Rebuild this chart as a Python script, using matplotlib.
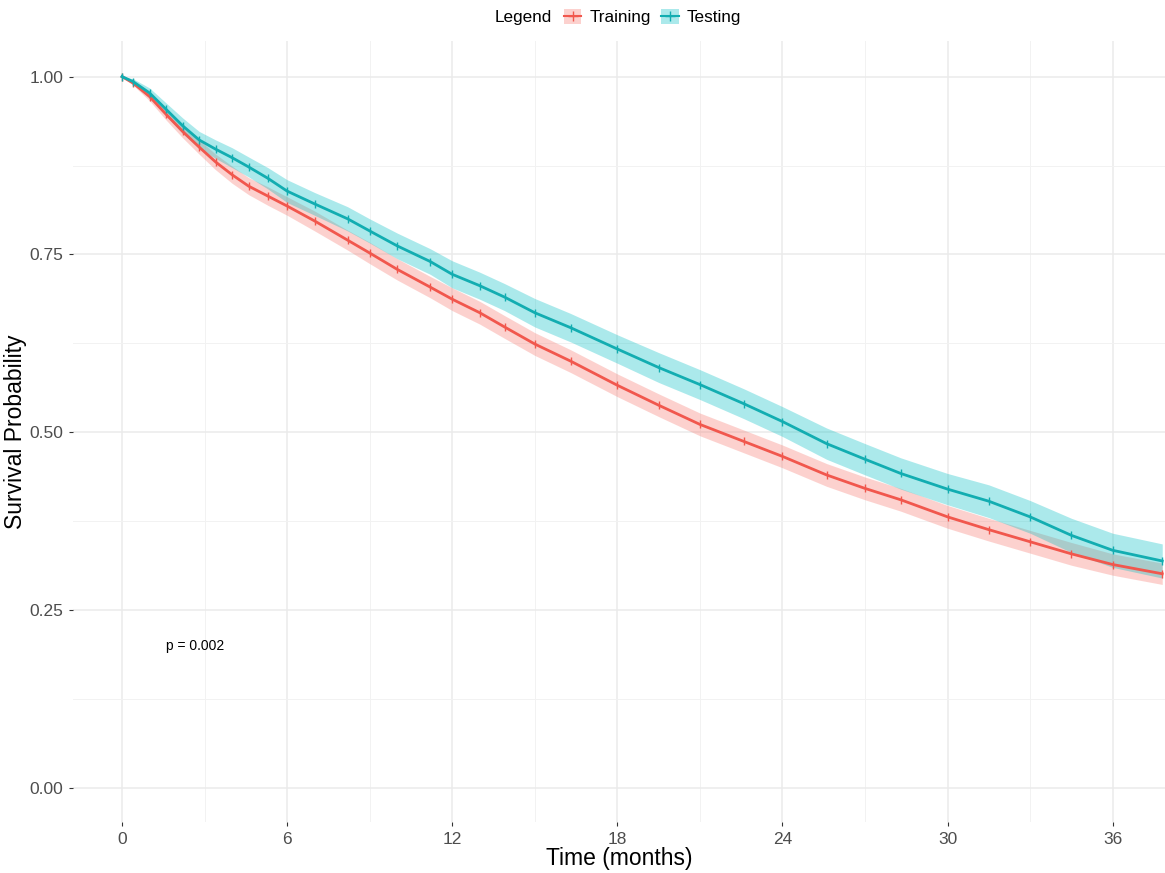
import matplotlib.pyplot as plt
from matplotlib.patches import Patch
from matplotlib.lines import Line2D
from matplotlib.ticker import MultipleLocator

plt.rcParams['font.family'] = ['Liberation Sans', 'DejaVu Sans']

# time points (months)
months = [0, 0.4, 1.0, 1.6, 2.2, 2.8, 3.4, 4.0, 4.6, 5.3, 6.0, 7.0, 8.2, 9.0,
          10.0, 11.2, 12.0, 13.0, 13.9, 15.0, 16.3, 18.0, 19.5, 21.0, 22.6,
          24.0, 25.6, 27.0, 28.3, 30.0, 31.5, 33.0, 34.5, 36.0, 37.8]

training = [1.0, 0.991, 0.972, 0.947, 0.923, 0.901, 0.880, 0.862, 0.846, 0.832,
            0.818, 0.797, 0.770, 0.752, 0.729, 0.704, 0.687, 0.668, 0.648,
            0.624, 0.600, 0.566, 0.538, 0.511, 0.487, 0.466, 0.440, 0.421,
            0.405, 0.381, 0.363, 0.346, 0.329, 0.314, 0.301]
testing = [1.0, 0.993, 0.977, 0.954, 0.931, 0.911, 0.898, 0.886, 0.873, 0.857,
           0.839, 0.821, 0.800, 0.783, 0.762, 0.740, 0.722, 0.706, 0.690,
           0.668, 0.647, 0.617, 0.591, 0.567, 0.540, 0.515, 0.484, 0.462,
           0.442, 0.420, 0.403, 0.381, 0.355, 0.334, 0.319]

# half width of the confidence bands
training_ci = [0, 0.003, 0.006, 0.008, 0.009, 0.010, 0.011, 0.012, 0.012, 0.013,
               0.013, 0.014, 0.014, 0.015, 0.015, 0.015, 0.016, 0.016, 0.016,
               0.016, 0.016, 0.016, 0.016, 0.016, 0.016, 0.016, 0.016, 0.016,
               0.016, 0.016, 0.016, 0.016, 0.016, 0.015, 0.015]
testing_ci = [0, 0.004, 0.007, 0.009, 0.011, 0.012, 0.013, 0.014, 0.014, 0.015,
              0.016, 0.016, 0.017, 0.017, 0.018, 0.018, 0.019, 0.019, 0.019,
              0.020, 0.020, 0.020, 0.021, 0.021, 0.021, 0.021, 0.022, 0.022,
              0.022, 0.022, 0.023, 0.023, 0.024, 0.024, 0.024]

groups = ['Training', 'Testing']
line_colors = ['#F1574D', '#12ADB1']
fill_colors = ['#F8766D', '#00BFC4']

fig = plt.figure(figsize=(11.65, 8.73), dpi=100)
ax = fig.add_axes([0.0627, 0.0584, 0.9373, 0.8946])

handles = []
for name, surv, ci, lc, fc in zip(groups, [training, testing],
                                  [training_ci, testing_ci],
                                  line_colors, fill_colors):
    lo = [s - c for s, c in zip(surv, ci)]
    hi = [s + c for s, c in zip(surv, ci)]
    ax.fill_between(months, lo, hi, color=fc, alpha=0.33, lw=0, zorder=2)
    ax.plot(months, surv, color=lc, lw=2.0, marker='|', ms=6, mew=1.0,
            zorder=3)
    handles.append((Patch(facecolor=fc, alpha=0.33, edgecolor='none'),
                    Line2D([], [], color=lc, lw=1.5, marker='+', ms=7)))

ax.text(1.6, 0.20, 'p = 0.002', fontsize=10, ha='left', va='center',
        color='black')

ax.set_xlim(-1.78, 37.9)
ax.set_ylim(-0.048, 1.05)
ax.xaxis.set_major_locator(MultipleLocator(6))
ax.xaxis.set_minor_locator(MultipleLocator(3))
ax.yaxis.set_minor_locator(MultipleLocator(0.125))
ax.set_yticks([0, 0.25, 0.5, 0.75, 1.0])
ax.set_yticklabels(['0.00', '0.25', '0.50', '0.75', '1.00'])
ax.grid(which='major', color='#EBEBEB', lw=1.1, zorder=0)
ax.grid(which='minor', color='#F2F2F2', lw=0.7, zorder=0)
ax.set_axisbelow(True)
for s in ax.spines.values():
    s.set_visible(False)
ax.tick_params(which='major', length=3, width=0.8, color='#333333',
               labelsize=12.5, labelcolor='#4D4D4D', pad=4)
ax.tick_params(which='minor', length=0)

ax.set_xlabel('Time (months)', fontsize=16.5, labelpad=0)
ax.set_ylabel('Survival Probability', fontsize=16.5, labelpad=2)

fig.text(0.425, 0.9805, 'Legend', fontsize=12.3, ha='left', va='center')
fig.legend(handles, groups, loc='center left', bbox_to_anchor=(0.474, 0.9805),
           ncol=2, frameon=False, fontsize=12.3, handlelength=1.0,
           handleheight=1.0, handletextpad=0.5, columnspacing=0.6,
           borderpad=0.2)

fig.savefig('out.png', dpi=100)
